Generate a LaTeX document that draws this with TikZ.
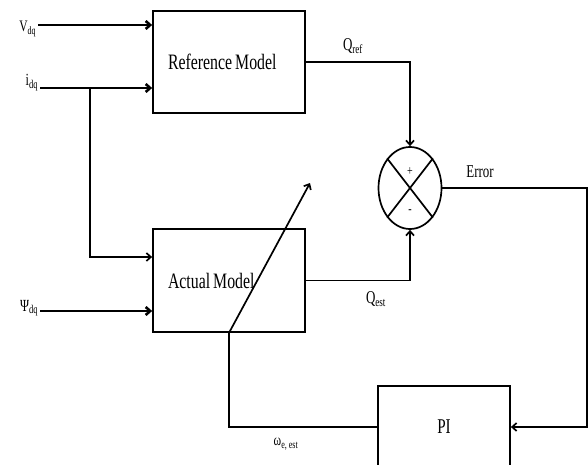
\documentclass[tikz,border=0pt]{standalone}
\usepackage{fontspec}
\setmainfont{Liberation Serif}[FakeStretch=0.72]
\usetikzlibrary{arrows.meta,shapes.geometric}

\begin{document}
\begin{tikzpicture}[x=1pt,y=-1pt,line width=1.7pt,>={Straight Barb[length=4.5pt,width=8pt]},
  blk/.style={draw,inner sep=0pt,minimum width=152pt,minimum height=102pt},
  mdl/.style={blk,text width=122pt,align=left,font=\fontsize{22}{24}\selectfont},
  lbl/.style={inner sep=0pt,font=\fontsize{18}{18}\selectfont},
  inp/.style={->,line width=2.6pt}]
\useasboundingbox (0,0) rectangle (588,465);
\clip (0,0) rectangle (588,465);
% blocks
\node[mdl] (ref) at (229,62) {Reference\hspace{3pt}Model};
\node[mdl,minimum height=103pt] (act) at (229,280.5) {Actual\hspace{3pt}Model};
\node[blk,minimum width=132pt,minimum height=82pt,font=\fontsize{21}{22}\selectfont] (pi) at (444,427) {PI};
\node[draw,ellipse,inner sep=0pt,minimum width=63pt,minimum height=82pt] (sum) at (410,188) {};
\draw (sum.north west) -- (sum.south east) (sum.north east) -- (sum.south west);
\node[font=\fontsize{14}{14}\selectfont] (plus) at (410,172) {+};
\node[font=\fontsize{14}{14}\selectfont] (minus) at (410,212) {-};
% inputs
\coordinate (vin) at (38,25); \coordinate (iin) at (40,88); \coordinate (psin) at (40,311); \coordinate (br) at (90,88);
\node[lbl,anchor=base east,font=\fontsize{16}{16}\selectfont] (vlab) at (37,32) {V\textsubscript{dq}};
\node[lbl,anchor=base east,font=\fontsize{17}{16}\selectfont] (ilab) at (39,86) {i\textsubscript{dq}};
\node[lbl,anchor=base east,font=\fontsize{17}{16}\selectfont] (plab) at (39,311) {Ψ\textsubscript{dq}};
\draw[inp] (vin) -- ([yshift=37pt]ref.west);
\draw[inp] (iin) -- ([yshift=-26pt]ref.west);
\draw[->] (br) |- ([yshift=23.5pt]act.west);
\draw[inp] (psin) -- ([yshift=-30.5pt]act.west);
% loop
\coordinate (er) at (587,188); \coordinate (adj) at (310,183);
\draw[->] (ref.east) -| (sum.north);
\draw[->] (act.east) -| (sum.south);
\draw[->] (sum.east) -- (er) |- (pi.east);
\draw[->] (pi.west) -| (act.south) -- (adj);
\node[lbl] (qref) at (353,46) {Q\textsubscript{ref}};
\node[lbl] (qest) at (376,299) {Q\textsubscript{est}};
\node[lbl] (err) at (480,172) {Error};
\node[lbl,font=\fontsize{16}{16}\selectfont] (wlab) at (286,444) {ω\textsubscript{e, est}};
\end{tikzpicture}
\end{document}
